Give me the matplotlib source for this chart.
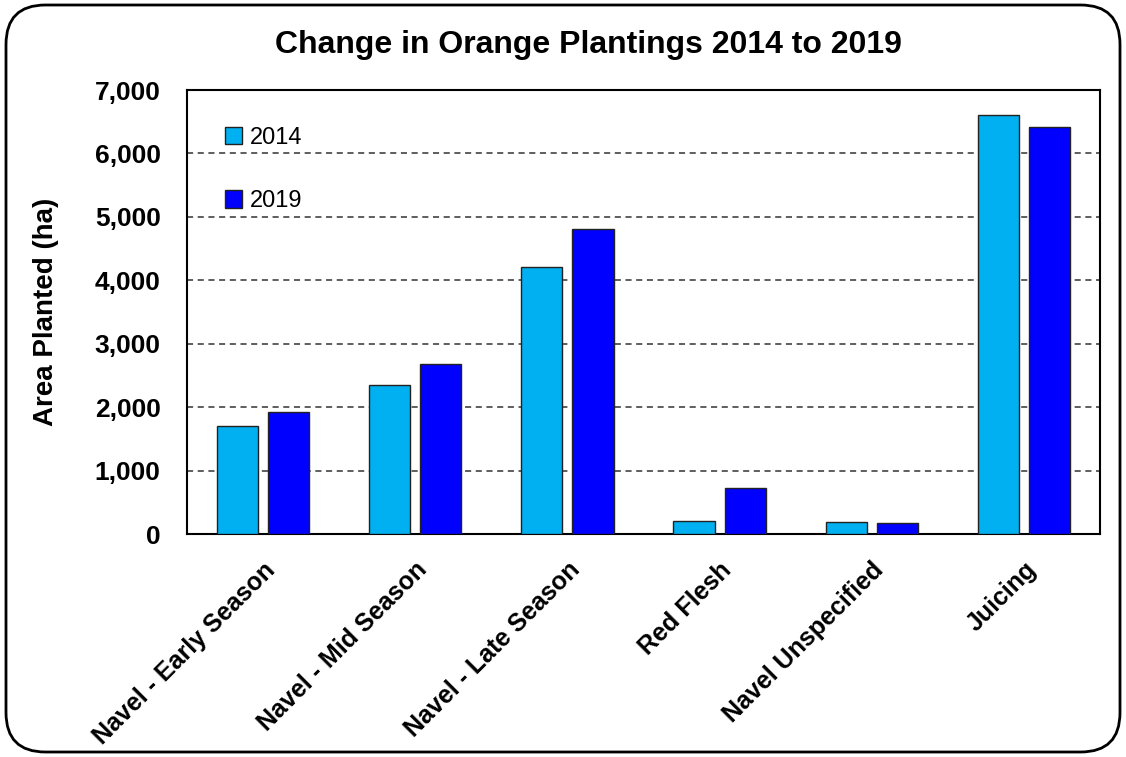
import matplotlib
matplotlib.use('Agg')
import matplotlib.pyplot as plt
from matplotlib.patches import FancyBboxPatch, Patch
from matplotlib.ticker import FuncFormatter
import numpy as np

plt.rcParams['font.family'] = ['Liberation Sans', 'DejaVu Sans']

# data
categories = ['Navel - Early Season', 'Navel - Mid Season', 'Navel - Late Season',
              'Red Flesh', 'Navel Unspecified', 'Juicing']
area_2014 = [1700, 2345, 4210, 200, 195, 6610]
area_2019 = [1920, 2675, 4810, 725, 170, 6415]
series_names = ['2014', '2019']
yticks = [0, 1000, 2000, 3000, 4000, 5000, 6000, 7000]

COLORS = {'2014': '#00B0F0', '2019': '#0000FF', 'edge': '#222222'}

fig = plt.figure(figsize=(11.26, 7.57), dpi=100)
ax = fig.add_axes([187 / 1126, 1 - 534 / 757, (1100 - 187) / 1126, (534 - 90) / 757])

# rounded outer border
border = FancyBboxPatch((6 / 1126, 5 / 757), 1 - 12 / 1126, 1 - 10 / 757,
                        boxstyle='round,pad=0,rounding_size=0.035',
                        transform=fig.transFigure, fill=False,
                        edgecolor='black', linewidth=2, mutation_aspect=1126 / 757)
fig.patches.append(border)

x = np.arange(len(categories))
w = 0.27
off = 0.168
ax.bar(x - off, area_2014, w, color=COLORS['2014'], edgecolor=COLORS['edge'], linewidth=1, zorder=3)
ax.bar(x + off, area_2019, w, color=COLORS['2019'], edgecolor=COLORS['edge'], linewidth=1, zorder=3)

ax.set_xlim(-0.5, len(categories) - 0.5)
ax.set_ylim(0, 7000)
ax.set_yticks(yticks)
ax.yaxis.set_major_formatter(FuncFormatter(lambda v, p: f'{int(v):,}'))
ax.yaxis.grid(True, linestyle=(0, (4, 3)), color='#333333', linewidth=1.1, zorder=0)
ax.set_axisbelow(True)

ax.set_xticks(x)
ax.set_xticklabels(categories, rotation=45, ha='right', rotation_mode='anchor',
                   fontsize=18, fontweight='bold')
ax.tick_params(axis='x', length=0, pad=17)
ax.tick_params(axis='y', length=0, pad=19, labelsize=19)
for t in ax.get_yticklabels():
    t.set_fontweight('bold')

for s in ax.spines.values():
    s.set_linewidth(1.5)
    s.set_color('black')

ax.set_ylabel('Area Planted (ha)', fontsize=20, fontweight='bold')
ax.yaxis.set_label_coords(-0.14, 0.5)
fig.text(0.523, 1 - 45 / 757, 'Change in Orange Plantings 2014 to 2019',
         ha='center', va='center', fontsize=23, fontweight='bold')

handles = [Patch(facecolor=COLORS[n], edgecolor=COLORS['edge'], label=n) for n in series_names]
ax.legend(handles=handles, loc='upper left', bbox_to_anchor=(0.018, 0.965), frameon=False,
          fontsize=17, handlelength=0.75, handleheight=0.75, handletextpad=0.3, labelspacing=1.75)

fig.savefig('out.png', dpi=100, facecolor='white')
